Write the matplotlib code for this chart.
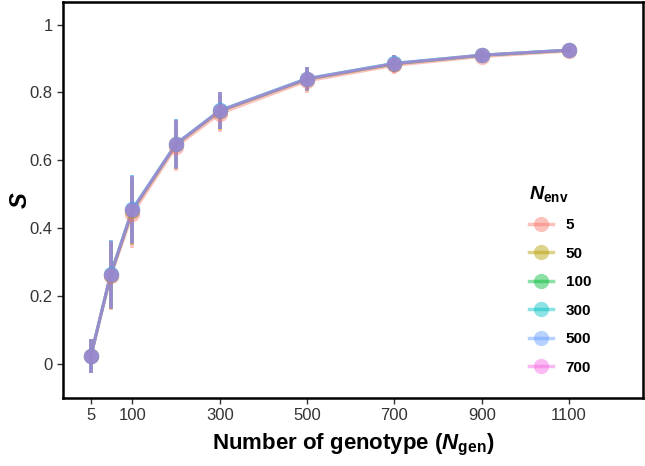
import numpy as np
import matplotlib
matplotlib.use("Agg")
import matplotlib.pyplot as plt
from matplotlib.lines import Line2D

plt.rcParams['font.family'] = ['Liberation Sans', 'DejaVu Sans']
plt.rcParams['mathtext.fontset'] = 'custom'
plt.rcParams['mathtext.rm'] = 'Liberation Sans:bold'
plt.rcParams['mathtext.it'] = 'Liberation Sans:bold:italic'
plt.rcParams['mathtext.bf'] = 'Liberation Sans:bold'

# ==================== DATA ====================
n_gen = [5, 50, 100, 200, 300, 500, 700, 900, 1100]
n_env = ['5', '50', '100', '300', '500', '700']
colors = ['#F8766D', '#B79F00', '#00BA38', '#00BFC4', '#619CFF', '#F564E3']

s_mean = {
    '5':   [0.025, 0.258, 0.443, 0.640, 0.738, 0.834, 0.880, 0.906, 0.922],
    '50':  [0.025, 0.262, 0.452, 0.647, 0.745, 0.839, 0.884, 0.909, 0.924],
    '100': [0.025, 0.263, 0.455, 0.648, 0.746, 0.840, 0.885, 0.910, 0.925],
    '300': [0.025, 0.264, 0.456, 0.649, 0.747, 0.841, 0.886, 0.910, 0.925],
    '500': [0.025, 0.264, 0.456, 0.649, 0.747, 0.841, 0.886, 0.910, 0.925],
    '700': [0.025, 0.263, 0.454, 0.648, 0.746, 0.840, 0.885, 0.910, 0.925],
}
s_err = [0.05, 0.10, 0.10, 0.072, 0.055, 0.035, 0.025, 0.016, 0.008]

x_ticks = [5, 100, 300, 500, 700, 900, 1100]
y_ticks = [0, 0.2, 0.4, 0.6, 0.8, 1.0]
y_ticklabels = ['0', '0.2', '0.4', '0.6', '0.8', '1']

# ==================== PLOT ====================
fig = plt.figure(figsize=(6.45, 4.66), dpi=100)
ax = fig.add_axes([0.0977, 0.146, 0.899, 0.850])

# layers like ggplot: error bars, then lines, then points
for env, col in zip(n_env, colors):
    ax.errorbar(n_gen, s_mean[env], yerr=s_err, fmt='none', ecolor=col,
                alpha=0.45, elinewidth=2.6, capsize=0)
for env, col in zip(n_env, colors):
    ax.plot(n_gen, s_mean[env], color=col, alpha=0.45, lw=2.2)
for env, col in zip(n_env, colors):
    ax.plot(n_gen, s_mean[env], 'o', color=col, alpha=0.45, ms=11, mec='none')

ax.set_xlim(-59, 1269)
ax.set_ylim(-0.1, 1.067)
ax.set_xticks(x_ticks)
ax.set_yticks(y_ticks)
ax.set_yticklabels(y_ticklabels)
ax.tick_params(labelsize=12, colors='#333333', length=4, width=1)
for sp in ax.spines.values():
    sp.set_linewidth(1.8)
    sp.set_color('black')

ax.set_xlabel(r'Number of genotype ($N_{\mathrm{gen}}$)', fontsize=16,
              fontweight='bold', labelpad=6)
ax.set_ylabel(r'$S$', fontsize=17, labelpad=-2)

handles = [Line2D([0], [0], color=c, alpha=0.45, lw=2.5, marker='o', ms=11,
                  mec='none') for c in colors]
leg = ax.legend(handles, n_env, title=r'$N_{\mathrm{env}}$', loc='center left',
                bbox_to_anchor=(0.78, 0.30), frameon=False, fontsize=11,
                title_fontsize=14, labelspacing=0.95, handlelength=1.6,
                handletextpad=0.8)
for t in leg.get_texts():
    t.set_fontweight('bold')
leg._legend_box.align = 'left'

fig.savefig('out.png', dpi=100)
